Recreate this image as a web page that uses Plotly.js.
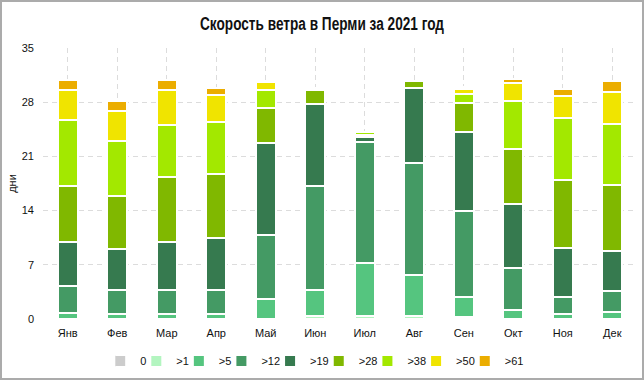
<!DOCTYPE html>
<html>
<head>
<meta charset="utf-8">
<script src="https://cdn.plot.ly/plotly-3.0.1.min.js"></script>
<style>
  html, body { margin: 0; padding: 0; background: #fff; }
  #wrap { position: relative; width: 644px; height: 380px; }
  #chart { width: 644px; height: 380px; }
  #frame { position: absolute; left: 0; top: 0; width: 644px; height: 380px; box-sizing: border-box; border: 2px solid #ababab; pointer-events: none; }
</style>
</head>
<body>
<div id="wrap"><div id="chart"></div><div id="frame"></div></div>
<script>
// Categories (months) and speed bins
const months = ['Янв','Фев','Мар','Апр','Май','Июн','Июл','Авг','Сен','Окт','Ноя','Дек'];
const binNames = ['0','>1','>5','>12','>19','>28','>38','>50','>61'];
const binColors = ['#cccccc','#b3f5c0','#55c57f','#449a64','#367a4f','#80b800','#a3e800','#f0e400','#ebad00'];

// Days per month in each wind-speed bin
const v0  = [0,0,0,0,0,0,0,0,0,0,0,0];
const v1  = [0,0,0,0,0,0.4,0.4,0.4,0.2,0,0,0];
const v5  = [0.8,0.7,0.7,0.6,2.6,3.4,6.8,5.3,2.7,1.2,0.6,0.9];
const v12 = [3.4,3.0,3.1,3.1,8.3,13.4,15.6,14.4,11.0,5.4,2.2,2.7];
const v19 = [5.7,5.4,6.2,6.7,11.8,10.6,0.65,9.7,10.3,8.3,6.4,5.2];
const v28 = [7.3,6.8,8.3,8.3,4.6,1.8,0.35,0.9,3.75,7.0,8.7,8.5];
const v38 = [8.5,7.1,6.8,6.8,2.3,0.25,0.35,0,1.15,6.2,8.1,7.9];
const v50 = [3.9,3.9,4.5,3.4,1.0,0,0,0,0.6,2.4,2.8,4.1];
const v61 = [1.3,1.2,1.3,0.9,0,0,0,0,0.3,0.5,0.9,1.4];

const series = [v0,v1,v5,v12,v19,v28,v38,v50,v61];

const txtFont = 'Liberation Sans, Arial, sans-serif';

const traces = series.map((vals, i) => ({
  type: 'bar',
  name: binNames[i],
  x: months,
  y: vals,
  marker: { color: binColors[i], line: { color: '#ffffff', width: 2 } },
  hoverinfo: 'x+y+name'
}));

const layout = {
  width: 644,
  height: 380,
  barmode: 'stack',
  bargap: 0.6,
  paper_bgcolor: '#ffffff',
  plot_bgcolor: '#ffffff',
  margin: { l: 43, r: 7, t: 48, b: 61, autoexpand: false },
  title: {
    text: 'Скорость ветра в Перми за 2021 год',
    font: { family: txtFont, size: 18, weight: 'bold', color: '#111111' },
    x: 0.5, xanchor: 'center',
    y: 0.937, yanchor: 'middle'
  },
  xaxis: {
    type: 'category',
    showgrid: true,
    gridcolor: '#dcdcdc',
    griddash: '5px,4px',
    gridwidth: 1,
    zeroline: false,
    showline: false,
    ticks: '',
    ticklabelstandoff: 6,
    tickfont: { family: txtFont, size: 11, color: '#111111' }
  },
  yaxis: {
    range: [0, 35],
    tick0: 0,
    dtick: 7,
    showgrid: true,
    gridcolor: '#dcdcdc',
    griddash: '5px,4px',
    gridwidth: 1,
    zeroline: false,
    showline: false,
    ticks: '',
    ticklabelstandoff: 8,
    tickfont: { family: txtFont, size: 11, color: '#111111' },
    title: { text: 'дни', font: { family: txtFont, size: 11, color: '#111111' }, standoff: 2 }
  },
  legend: {
    orientation: 'h',
    xref: 'paper', x: 0.47, xanchor: 'center',
    yref: 'container', y: 0.05, yanchor: 'middle',
    traceorder: 'normal',
    itemwidth: 30,
    indentation: -15,
    font: { family: txtFont, size: 11, color: '#111111' }
  },
  showlegend: true
};

Plotly.newPlot('chart', traces, layout, { displayModeBar: false, staticPlot: true }).then(function (gd) {
  // condense the title to the narrow width of the original heading
  const t = gd.querySelector('.gtitle');
  if (t) {
    t.setAttribute('textLength', '244');
    t.setAttribute('lengthAdjust', 'spacingAndGlyphs');
  }
});
</script>
</body>
</html>
